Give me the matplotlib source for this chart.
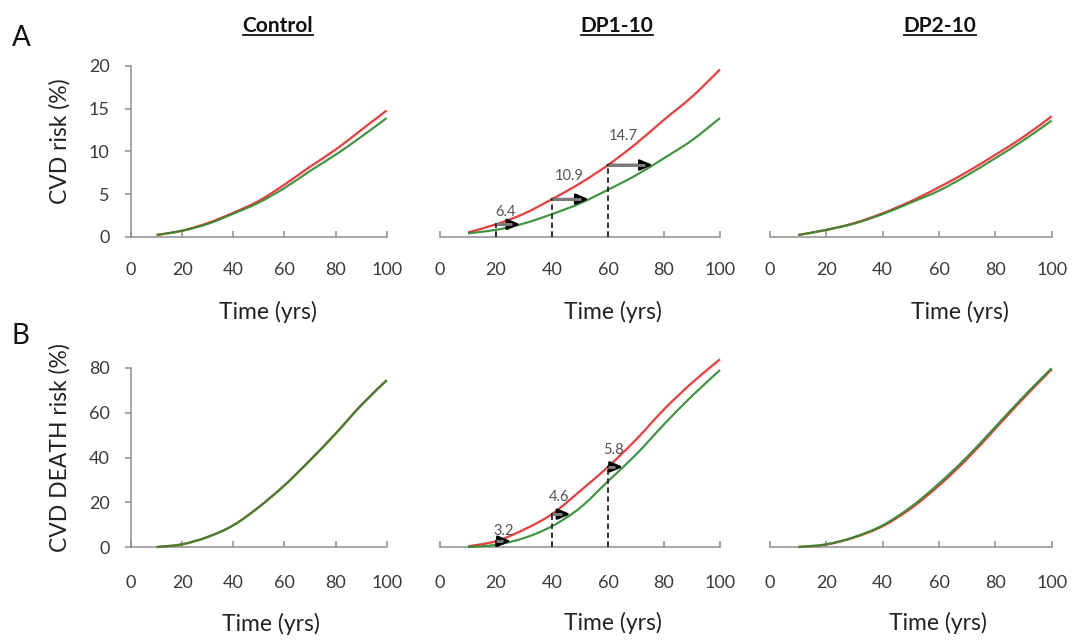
import numpy as np
import matplotlib.pyplot as plt
from matplotlib.lines import Line2D
from matplotlib.path import Path
from matplotlib.patches import PathPatch

plt.rcParams['font.family'] = ['Lato', 'DejaVu Sans']

W, H = 1075, 640

years = [10, 20, 30, 40, 50, 60, 70, 80, 90, 100]

# A: CVD risk (%)
cvd_control_red = [0.2, 0.7, 1.6, 2.8, 4.2, 6.1, 8.2, 10.2, 12.5, 14.8]
cvd_control_green = [0.2, 0.7, 1.5, 2.7, 4.0, 5.7, 7.7, 9.6, 11.7, 13.9]
cvd_dp1_red = [0.5, 1.45, 2.7, 4.4, 6.25, 8.4, 10.9, 13.7, 16.4, 19.6]
cvd_dp1_green = [0.4, 0.8, 1.55, 2.65, 3.9, 5.5, 7.2, 9.2, 11.3, 13.9]
cvd_dp2_red = [0.2, 0.8, 1.6, 2.75, 4.15, 5.8, 7.6, 9.6, 11.7, 14.1]
cvd_dp2_green = [0.2, 0.8, 1.55, 2.65, 4.0, 5.4, 7.2, 9.2, 11.3, 13.6]

# B: CVD DEATH risk (%)
death_control_red = [0.0, 1.2, 4.5, 9.7, 17.9, 27.6, 38.8, 50.7, 63.4, 74.6]
death_control_green = [0.0, 1.2, 4.5, 9.7, 17.8, 27.5, 38.7, 50.6, 63.3, 74.5]
death_dp1_red = [0.3, 2.6, 7.8, 14.7, 25.0, 35.8, 48.0, 61.5, 73.4, 83.9]
death_dp1_green = [0.0, 1.0, 4.0, 9.3, 17.5, 29.4, 41.3, 54.8, 67.5, 79.1]
death_dp2_red = [0.0, 1.1, 4.3, 9.3, 17.2, 27.5, 39.4, 52.9, 66.5, 79.4]
death_dp2_green = [0.0, 1.2, 4.5, 9.7, 17.9, 28.4, 40.3, 53.7, 67.2, 79.9]

# years where the delay is marked, and the delay in years
mark_years = [20, 40, 60]
cvd_delay = ['6.4', '10.9', '14.7']
death_delay = ['3.2', '4.6', '5.8']

titles = ['Control', 'DP1-10', 'DP2-10']

RED = '#f03c3c'
GREEN = '#2e8a2e'
GREY = '#8e8e8e'


def smooth_line(ax, xs, ys, **kw):
    # Excel-style smoothed line: Catmull-Rom segments drawn as cubic beziers
    p = np.column_stack([xs, ys]).astype(float)
    n = len(p)
    verts = [p[0]]
    codes = [Path.MOVETO]
    for i in range(n - 1):
        p0 = p[max(i - 1, 0)]
        p3 = p[min(i + 2, n - 1)]
        c1 = p[i] + (p[i + 1] - p0) / 6
        c2 = p[i + 1] - (p3 - p[i]) / 6
        verts += [c1, c2, p[i + 1]]
        codes += [Path.CURVE4] * 3
    ax.add_patch(PathPatch(Path(verts, codes), fill=False, clip_on=False, **kw))


fig = plt.figure(figsize=(W / 100, H / 100), dpi=100)

cols = [(131, 386.7), (440, 720), (770, 1051.7)]
rows = [(66, 236.7), (368, 547)]

panels = [
    [(cvd_control_red, cvd_control_green), (cvd_dp1_red, cvd_dp1_green), (cvd_dp2_red, cvd_dp2_green)],
    [(death_control_red, death_control_green), (death_dp1_red, death_dp1_green), (death_dp2_red, death_dp2_green)],
]
ylims = [(0, 20), (0, 80)]
yticks = [[0, 5, 10, 15, 20], [0, 20, 40, 60, 80]]
ylabels = ['CVD risk (%)', 'CVD DEATH risk (%)']
xpads = [18.5, 20]
xlabel_pos = [[(267.5, 312), (613, 312), (960, 312)], [(271, 624), (613, 623), (938, 623)]]
ylabel_pos = [(60, 141.5), (60, 448)]
# label offsets (px) from arrow start
lab_off = [[(10, 12), (17, 23), (15.5, 29.5)], [(7.5, 10), (7, 17), (5, 17)]]

for r, (y0, y1) in enumerate(rows):
    for c, (x0, x1) in enumerate(cols):
        ax = fig.add_axes([x0 / W, 1 - y1 / H, (x1 - x0) / W, (y1 - y0) / H])
        red, green = panels[r][c]
        smooth_line(ax, years, red, edgecolor=RED, lw=1.6, zorder=3)
        smooth_line(ax, years, green, edgecolor=GREEN, lw=1.6, zorder=4, alpha=0.9)
        ax.set_xlim(0, 100)
        ax.set_ylim(*ylims[r])
        ax.set_xticks([0, 20, 40, 60, 80, 100])
        ax.set_yticks(yticks[r])
        for s in ['top', 'right']:
            ax.spines[s].set_visible(False)
        for s in ['left', 'bottom']:
            ax.spines[s].set_color(GREY)
            ax.spines[s].set_linewidth(1.1)
        ax.tick_params(axis='x', direction='in', length=4.5, width=1.1, color=GREY,
                       pad=xpads[r], labelsize=13, labelcolor='#3a3a3a')
        ax.tick_params(axis='y', direction='out', length=4.5, width=1.1, color=GREY,
                       pad=11, labelsize=13, labelcolor='#3a3a3a')
        if c > 0:
            ax.spines['left'].set_visible(False)
            ax.tick_params(axis='y', left=False, labelleft=False)
        else:
            ax.set_ylabel(ylabels[r], fontsize=16.5, color='#222222')
            lx, ly = ylabel_pos[r]
            ax.yaxis.set_label_coords((lx - x0) / (x1 - x0), (y1 - ly) / (y1 - y0))
            ax.yaxis.label.set_va('center')
        lx, ly = xlabel_pos[r][c]
        ax.text((lx - x0) / (x1 - x0), (y1 - ly) / (y1 - y0), 'Time (yrs)',
                transform=ax.transAxes, ha='center', va='center', fontsize=16.5, color='#222222')

        if c == 1:
            delays = cvd_delay if r == 0 else death_delay
            unit_px = (x1 - x0) / 100
            for k, yr in enumerate(mark_years):
                lvl = np.interp(yr, years, red)
                x_end = np.interp(lvl, green, years)
                ax.plot([yr, yr], [0, lvl], color='#222222', lw=1.3, ls=(0, (3, 2)), zorder=5)
                ax.annotate('', xy=(x_end, lvl), xytext=(yr, lvl),
                            arrowprops=dict(arrowstyle='-|>,head_length=0.75,head_width=0.32',
                                            color='black', lw=1.8, shrinkA=0, shrinkB=0),
                            zorder=6)
                ax.plot([yr, x_end - 8 / unit_px], [lvl, lvl], color='#7a7a7a', lw=2.2,
                        solid_capstyle='butt', zorder=7)
                dx, dy = lab_off[r][k]
                ax.annotate(delays[k], xy=(yr, lvl), xytext=(dx * 0.72, dy * 0.72),
                            textcoords='offset points', ha='center', va='center',
                            fontsize=10.5, color='#555555')

# panel letters
fig.text(21 / W, 1 - 38 / H, 'A', fontsize=20, ha='center', va='center', color='#111111')
fig.text(20 / W, 1 - 336 / H, 'B', fontsize=20, ha='center', va='center', color='#111111')

# underlined column titles
title_x = [278, 617, 940]
tts = []
for t, x in zip(titles, title_x):
    tts.append(fig.text(x / W, 1 - 32 / H, t, fontsize=15, fontweight='bold',
                        ha='center', va='baseline', color='#111111'))
fig.canvas.draw()
for tt in tts:
    bb = tt.get_window_extent()
    fig.add_artist(Line2D([bb.x0 / W, bb.x1 / W], [1 - 35 / H, 1 - 35 / H],
                          transform=fig.transFigure, color='#111111', lw=1.3))

fig.savefig('out.png', dpi=100)
